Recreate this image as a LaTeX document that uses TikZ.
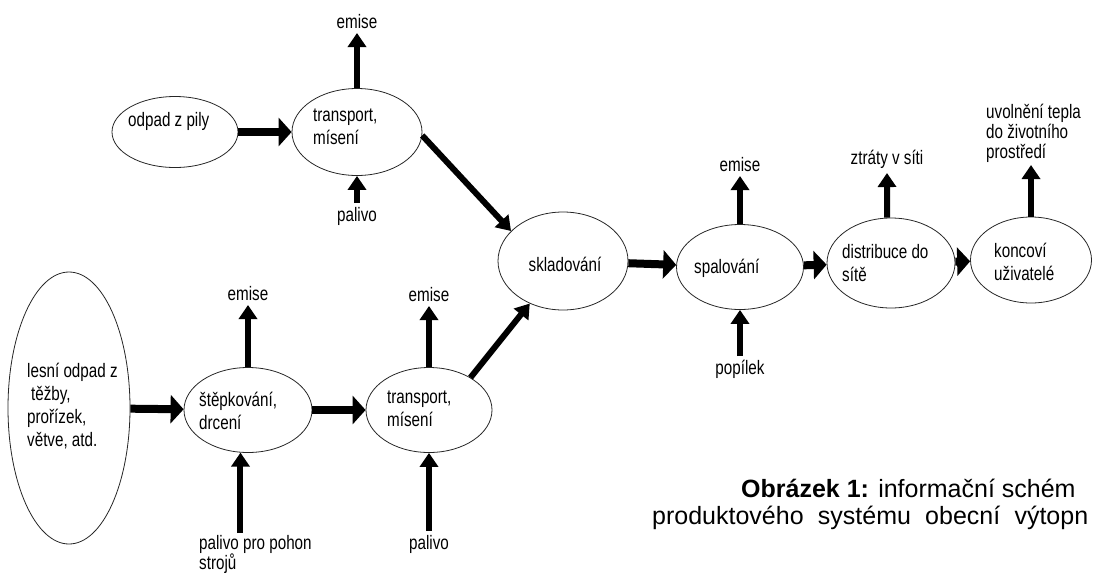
\documentclass[tikz,border=0pt]{standalone}
\usepackage{fontspec}
\setmainfont{Liberation Sans}
\newfontfamily\narrowfont{Liberation Sans}[FakeStretch=0.78]
\usetikzlibrary{arrows.meta,shapes.geometric}

\begin{document}
\begin{tikzpicture}[x=1pt,y=-1pt,
    stage/.style={draw=black!85,line width=0.8pt,ellipse,inner sep=0pt},
    txt/.style={font=\narrowfont\fontsize{19.5}{23}\selectfont,align=left,inner sep=0pt},
    side/.style={font=\narrowfont\fontsize{19.5}{20}\selectfont,align=left,inner sep=4pt},
    flow/.style={line width=8pt,-{Triangle[width=28pt,length=13pt]}},
    outflow/.style={line width=6pt,-{Triangle[width=18pt,length=14pt]}}]
  \useasboundingbox (0,0) rectangle (1093,574);
  \clip (0,0) rectangle (1093,574);

  \node[stage,minimum width=126pt,minimum height=71pt] (saw) at (175,132) {};
  \node[stage,minimum width=130pt,minimum height=87pt] (trA) at (357,132) {};
  \node[stage,minimum width=122pt,minimum height=272pt] (forest) at (69,408) {};
  \node[stage,minimum width=128pt,minimum height=85pt] (chip) at (248,410) {};
  \node[stage,minimum width=126pt,minimum height=85pt] (trB) at (429,410) {};
  \node[stage,minimum width=130pt,minimum height=98pt] (store) at (563,261) {};
  \node[stage,minimum width=127pt,minimum height=85pt] (burn) at (740,267) {};
  \node[stage,minimum width=128pt,minimum height=90pt] (dist) at (891,263) {};
  \node[stage,minimum width=121pt,minimum height=86pt] (user) at (1031,260) {};

  \node[txt,anchor=west] (sawt) at (128,121) {odpad z pily};
  \node[txt,anchor=west] (trAt) at (313,127) {transport,\\mísení};
  \node[txt,anchor=west] (forestt) at (27,406) {lesní odpad z\\\hspace*{4pt}těžby,\\prořízek,\\větve, atd.};
  \node[txt,anchor=west] (chipt) at (199,411) {štěpkování,\\drcení};
  \node[txt,anchor=west] (trBt) at (387,409) {transport,\\mísení};
  \node[txt] (storet) at (565,264) {skladování};
  \node[txt,anchor=west] (burnt) at (694,268) {spalování};
  \node[txt,anchor=west] (distt) at (842,263) {distribuce do\\sítě};
  \node[txt,anchor=west] (usert) at (994,262) {koncoví\\uživatelé};

  \node[side,anchor=south] (emA) at (357,33) {emise};
  \node[side,anchor=north] (fuelA) at (357,203) {palivo};
  \node[side,anchor=south] (emC) at (248,305) {emise};
  \node[side,anchor=north west,inner sep=2pt] (fuelC) at (197,533) {palivo pro pohon\\strojů};
  \node[side,anchor=south] (emB) at (429,306) {emise};
  \node[side,anchor=north] (fuelB) at (429,531) {palivo};
  \node[side,anchor=south] (emS) at (740,176) {emise};
  \node[side,anchor=north] (ash) at (740,356) {popílek};
  \node[side,anchor=south] (loss) at (887,173) {ztráty v síti};
  \node[side,anchor=south west,inner sep=2pt] (heat) at (984,165) {uvolnění tepla\\do životního\\prostředí};

  \draw[flow] (saw) -- (trA);
  \draw[flow] (forest) -- (chip);
  \draw[flow] (chip) -- (trB);
  \draw[outflow] (trA.-3) -- (store.150);
  \draw[outflow] (trB.38) -- (store.232);
  \draw[flow] (store) -- (burn);
  \draw[flow] (burn) -- (dist);
  \draw[flow] (dist) -- (user);

  \draw[outflow] (trA.north) -- (emA.south);
  \draw[outflow] (fuelA.north) -- (trA.south);
  \draw[outflow] (chip.north) -- (emC.south);
  \draw[outflow] (fuelC.north -| chip.260) -- (chip.260);
  \draw[outflow] (trB.north) -- (emB.south);
  \draw[outflow] (fuelB.north) -- (trB.south);
  \draw[outflow] (burn.north) -- (emS.south);
  \draw[outflow] (ash.north) -- (burn.south);
  \draw[outflow] (dist.95) -- (loss.south);
  \draw[outflow] (user.north) -- (user.north |- heat.south);

  \node[anchor=base west,inner sep=0pt,font=\fontsize{25}{25}\selectfont] (cap1) at (741,497)
    {\textbf{Obrázek 1:} informační schém};
  \node[anchor=base west,inner sep=0pt,font=\fontsize{25}{25}\selectfont] (cap2) at (652,524)
    {\hbox to 436pt{produktového\hfill systému\hfill obecní\hfill výtopn}};
\end{tikzpicture}
\end{document}
